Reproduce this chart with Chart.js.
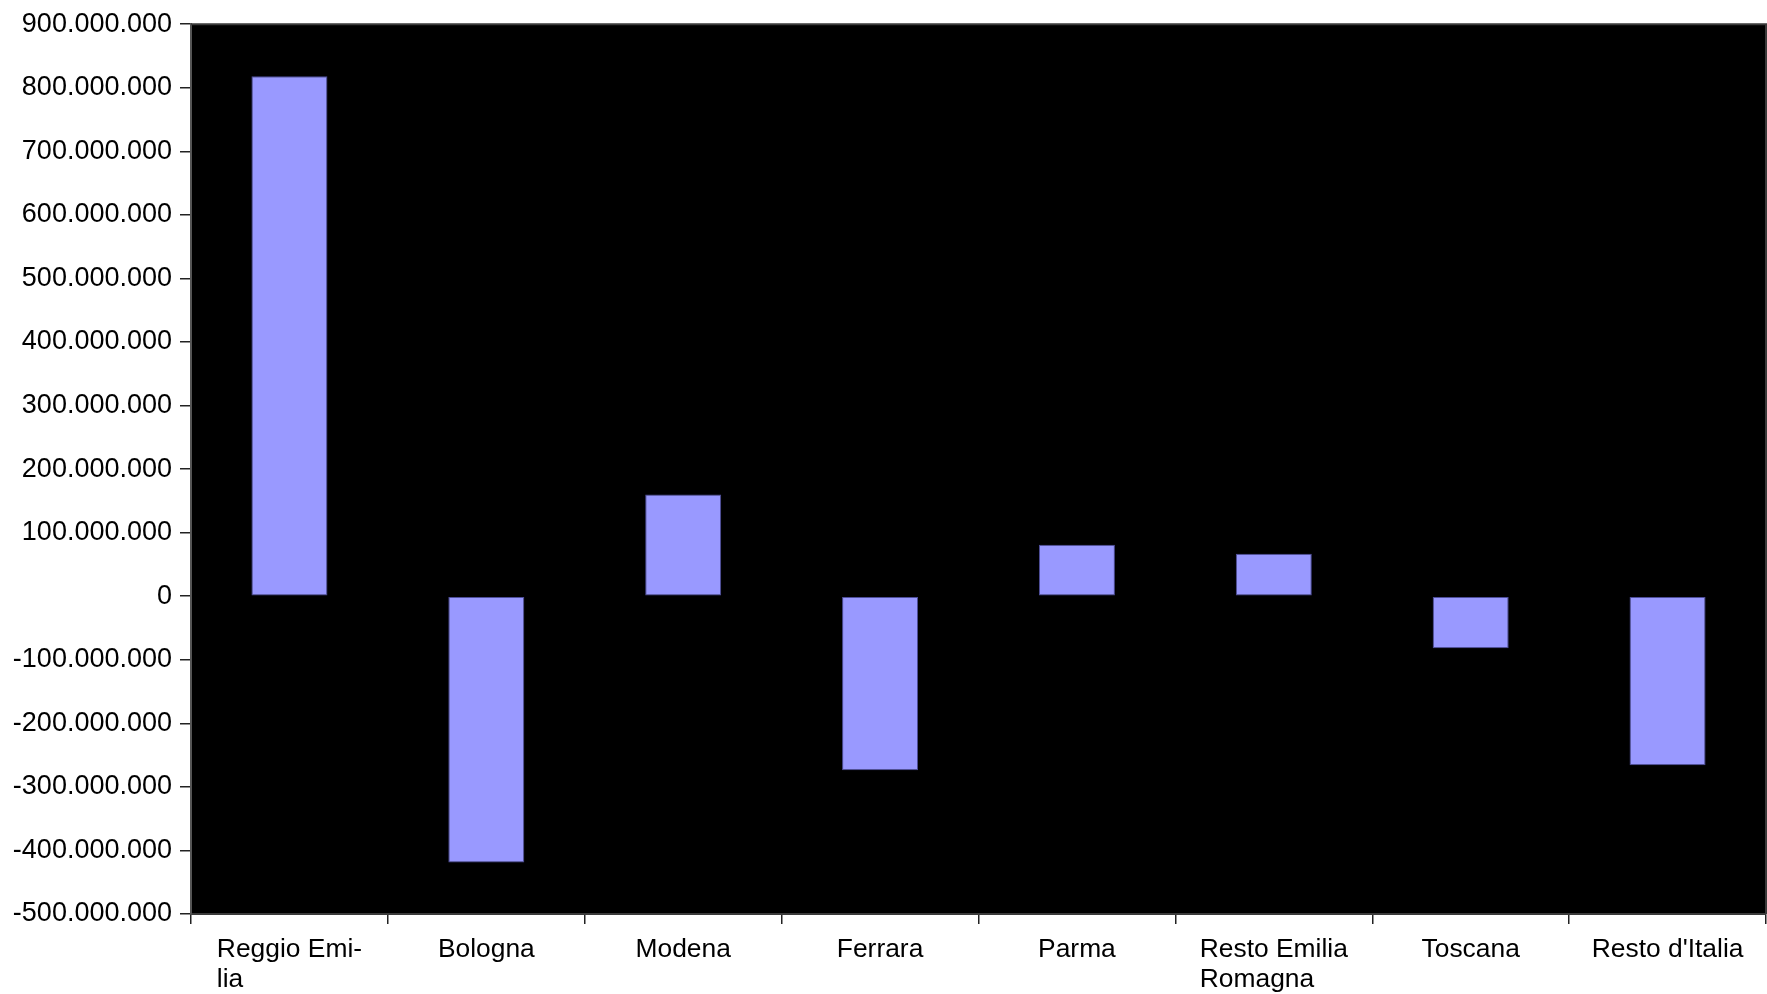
<!DOCTYPE html>
<html>
<head>
<meta charset="utf-8">
<script src="https://cdn.jsdelivr.net/npm/chart.js@4/dist/chart.umd.min.js"></script>
<style>
    body { margin: 0; background: #fff; }
    canvas { display: block; }
</style>
</head>
<body>
<canvas id="saldo-chart" width="1767" height="994"></canvas>
<script>
const FONT = '"Liberation Sans", Arial, sans-serif'
const BAR_COLOR = '#9999ff'
const BAR_EDGE = '#4d4d99'

// categories, with the line breaks used under the axis
const regions = [
    ['Reggio Emi-', 'lia'],
    'Bologna',
    'Modena',
    'Ferrara',
    'Parma',
    ['Resto Emilia', 'Romagna'],
    'Toscana',
    "Resto d'Italia"
]

// balance per area (euro)
const saldo = [818000000, -419000000, 160000000, -274000000, 81000000, 67000000, -82000000, -266000000]

const yMin = -500000000
const yMax = 900000000
const yStep = 100000000

function formatThousands(v) {
    const s = Math.abs(Math.round(v)).toString().replace(/\B(?=(\d{3})+(?!\d))/g, '.')
    return v < 0 ? '-' + s : s
}

const plotFrame = {
    id: 'plotFrame',
    beforeDraw(chart) {
        const { ctx, chartArea: a } = chart
        ctx.save()
        ctx.fillStyle = '#fff'
        ctx.fillRect(0, 0, chart.width, chart.height)
        ctx.fillStyle = '#000'
        ctx.fillRect(a.left, a.top, a.right - a.left, a.bottom - a.top)
        ctx.restore()
    },
    afterDraw(chart) {
        const { ctx, chartArea: a } = chart
        ctx.save()
        ctx.strokeStyle = '#3a3a3a'
        ctx.lineWidth = 2
        ctx.beginPath()
        ctx.moveTo(a.left, a.top)
        ctx.lineTo(a.right, a.top)
        ctx.lineTo(a.right, a.bottom)
        ctx.stroke()

        // category labels: lines left-aligned inside a centred block
        const xs = chart.scales.x
        ctx.fillStyle = '#000'
        ctx.font = '26.4px ' + FONT
        ctx.textBaseline = 'alphabetic'
        ctx.textAlign = 'left'
        regions.forEach((lab, i) => {
            const lines = Array.isArray(lab) ? lab : [lab]
            const w = Math.max(...lines.map(l => ctx.measureText(l).width))
            const left = xs.getPixelForValue(i) - w / 2
            lines.forEach((l, k) => {
                ctx.fillText(l, left, a.bottom + 43 + k * 30)
            })
        })
        ctx.restore()
    }
}

const chart = new Chart(document.getElementById('saldo-chart'), {
    type: 'bar',
    data: {
        labels: regions,
        datasets: [{
            data: saldo,
            backgroundColor: BAR_COLOR,
            borderColor: BAR_EDGE,
            borderWidth: 1,
            borderSkipped: false,
            barPercentage: 0.386,
            categoryPercentage: 1
        }]
    },
    options: {
        responsive: false,
        animation: false,
        // the top tick label adds ~6px on its own
        layout: { padding: { top: 13.8, right: 1, left: 0, bottom: 0 } },
        plugins: {
            legend: { display: false },
            tooltip: { enabled: false }
        },
        scales: {
            x: {
                grid: { offset: true, drawOnChartArea: false, tickLength: 10, color: '#222', lineWidth: 1.5 },
                border: { color: '#3a3a3a', width: 2 },
                ticks: { color: 'transparent', font: { size: 26, family: FONT } },
                afterFit: s => { s.height = 80 }
            },
            y: {
                min: yMin,
                max: yMax,
                ticks: {
                    stepSize: yStep,
                    color: '#000',
                    padding: 8,
                    font: { size: 27, family: FONT },
                    callback: v => formatThousands(v)
                },
                grid: { drawOnChartArea: false, tickLength: 11, color: '#222', lineWidth: 1.5 },
                border: { color: '#555', width: 2 },
                afterFit: s => { s.width = 191 }
            }
        }
    },
    plugins: [plotFrame]
})
</script>
</body>
</html>
